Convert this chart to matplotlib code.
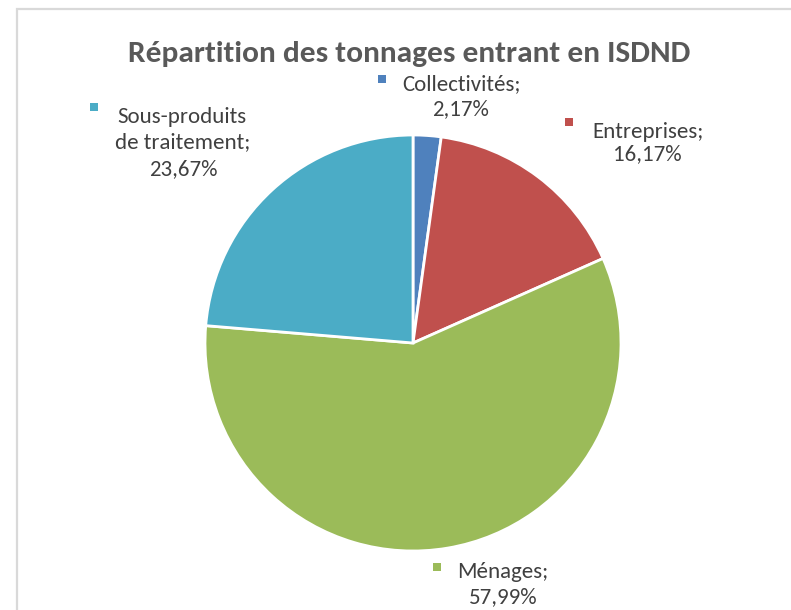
import matplotlib
matplotlib.use('Agg')
import matplotlib.pyplot as plt
from matplotlib.patches import Rectangle

# Slice data
categories = ['Collectivités', 'Entreprises', 'Ménages', 'Sous-produits\nde traitement']
shares = [2.17, 16.17, 57.99, 23.67]
colors = ['#4F81BD', '#C0504D', '#9BBB59', '#4BACC6']

plt.rcParams['font.family'] = ['Carlito', 'Open Sans', 'DejaVu Sans']

W, H = 791, 610
fig = plt.figure(figsize=(W / 100, H / 100), dpi=100)
ax = fig.add_axes([0, 0, 1, 1])

def Y(py):
    return H - py

ax.pie(shares, colors=colors, startangle=90, counterclock=False,
       center=(413, Y(343)), radius=208,
       wedgeprops=dict(edgecolor='white', linewidth=2))
ax.set_xlim(0, W)
ax.set_ylim(0, H)
ax.set_aspect('equal')
ax.set_axis_off()

# chart frame
ax.add_patch(Rectangle((17, Y(640)), 820, 631, fill=False,
                       edgecolor='#D9D9D9', linewidth=1.6))

ax.text(409, Y(62), 'Répartition des tonnages entrant en ISDND',
        ha='center', va='baseline', fontsize=22.6, fontweight='bold',
        color='#595959')

def pct(v):
    return f'{v:.2f}'.replace('.', ',') + '%'

# label layout: marker centre, then (x, baseline, ha) per text line
layout = [
    ((382, 78.5), [(402, 90, 'left'), (460, 115, 'center')]),
    ((569, 122), [(592, 138, 'left'), (647, 160, 'center')]),
    ((437, 567), [(457, 578, 'left'), (503, 603, 'center')]),
    ((94, 107), [(117, 123, 'left'), (183, 148, 'center'), (183, 175, 'center')]),
]
for cat, v, c, (mk, lines) in zip(categories, shares, colors, layout):
    ax.add_patch(Rectangle((mk[0] - 4, Y(mk[1]) - 4), 8, 8,
                           facecolor=c, edgecolor='none'))
    parts = cat.split('\n')
    parts[-1] += ';'
    parts.append(pct(v))
    for (x, y, ha), s in zip(lines, parts):
        ax.text(x, Y(y), s, ha=ha, va='baseline', fontsize=16.5,
                color='#404040')

fig.savefig('out.png', dpi=100)
